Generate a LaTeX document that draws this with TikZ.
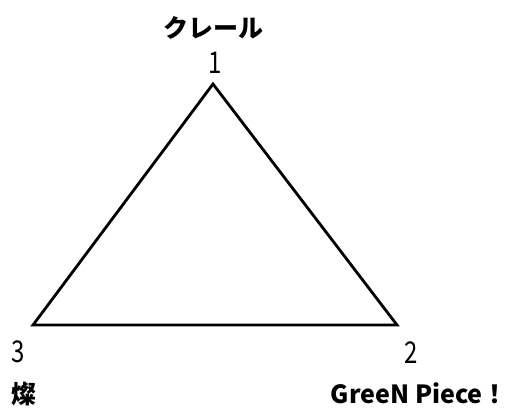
\documentclass[tikz,border=0pt]{standalone}
\usepackage{fontspec}
\setmainfont{Noto Sans CJK JP}
\newfontfamily\narrowfont[FakeStretch=0.8]{Noto Sans CJK JP}
\usepackage{tikz}
\usetikzlibrary{positioning}
\tikzset{
  vlabel/.style={inner sep=0pt, font=\narrowfont\fontsize{30}{32}\selectfont},
  namelabel/.style={inner sep=0pt, font=\fontsize{25}{28}\selectfont\bfseries},
  edge/.style={line width=2.8pt, color=black, line join=miter}
}

\begin{document}
\begin{tikzpicture}[x=1pt, y=-1pt]
  \useasboundingbox (0,0) rectangle (513,410);

  % Corners
  \coordinate (v1) at (213,84);
  \coordinate (v2) at (397,325);
  \coordinate (v3) at (33,325);

  \draw[edge] (v1) -- (v2) -- (v3) -- cycle;

  % Numbers and names
  \node[vlabel] (n1) at (215,63) {1};
  \node[namelabel] (name1) at (213,28) {クレール};
  \node[vlabel] (n2) at (411,353) {2};
  \node[namelabel, anchor=east] (name2) at (508,393) {GreeN Piece！};
  \node[vlabel] (n3) at (18,352) {3};
  \node[namelabel] (name3) at (24,394) {燦};
\end{tikzpicture}
\end{document}
